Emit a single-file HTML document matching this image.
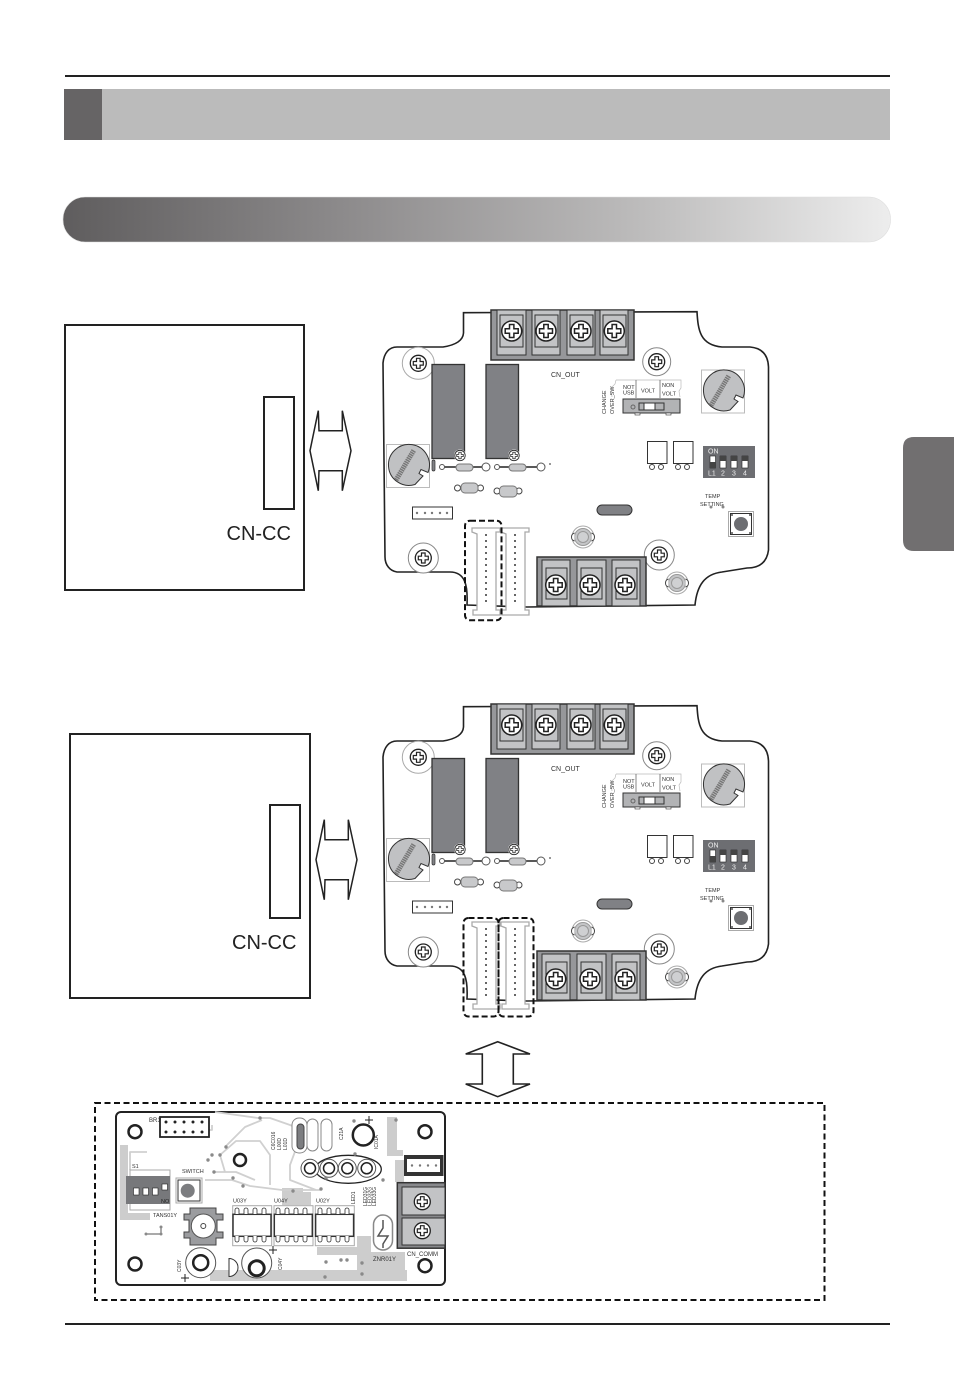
<!DOCTYPE html>
<html><head><meta charset="utf-8"><style>
html,body{margin:0;padding:0;background:#fff}
svg{display:block}
text{font-family:"Liberation Sans",sans-serif;fill:#333}
</style></head><body>
<svg xmlns="http://www.w3.org/2000/svg" width="954" height="1399" viewBox="0 0 954 1399">
<defs>
<linearGradient id="pg" x1="0" x2="1" y1="0" y2="0"><stop offset="0" stop-color="#5f5d5e"/><stop offset=".35" stop-color="#8e8c8d"/><stop offset=".7" stop-color="#bdbcbc"/><stop offset="1" stop-color="#ededed"/></linearGradient>
<g id="sc"><circle r="10" fill="#fff" stroke="#222" stroke-width="1.5"/><path d="M-2.200-6.500h4.400v4.300h4.300v4.400h-4.300v4.300h-4.400v-4.300h-4.300v-4.400h4.300z" fill="#fff" stroke="#222" stroke-width="1.500"/></g>
<g id="ss"><circle r="8" fill="#fff" stroke="#222" stroke-width="1.300"/><path d="M-1.800-5h3.600v3.200h3.200v3.600h-3.200v3.200h-3.600v-3.200h-3.200v-3.600h3.200z" fill="#fff" stroke="#222" stroke-width="1.200"/></g>
<g id="rot"><rect x="-21.500" y="-21.500" width="43" height="43" fill="#fff" stroke="#bbb"/><path d="M20 6.500A20.500 20.500 0 1 0 7 18.500L15 10 11 7.500 13 3.500Z" fill="#c0c1c3" stroke="#333"/><path d="M-12 14 6-16" stroke="#777" stroke-width="5" fill="none" stroke-dasharray="1.500 .7"/></g>
<g id="cap"><circle r="11" fill="#fff" stroke="#aaa"/><circle r="8.500" fill="#c4c5c7" stroke="#999"/><circle r="5.500" fill="#cfd0d2" stroke="#999"/><path d="M-8.500-4a4 4 0 0 0-3 4 4 4 0 0 0 3 4M8.500-4a4 4 0 0 1 3 4 4 4 0 0 1-3 4" fill="#fff" stroke="#444"/></g>
<g id="con"><path d="M-10 0h28v4h-4v78h4v5h-27v-5h4V6l-5-2z" fill="#fff" stroke="#aaa" stroke-width="1.300"/><g fill="#666"><rect x="3" y="6" width="2" height="2"/><rect x="3" y="12" width="2" height="2"/><rect x="3" y="18" width="2" height="2"/><rect x="3" y="24" width="2" height="2"/><rect x="3" y="30" width="2" height="2"/><rect x="3" y="36" width="2" height="2"/><rect x="3" y="42" width="2" height="2"/><rect x="3" y="48" width="2" height="2"/><rect x="3" y="54" width="2" height="2"/><rect x="3" y="60" width="2" height="2"/><rect x="3" y="66" width="2" height="2"/><rect x="3" y="72" width="2" height="2"/></g></g>
<g id="board">
<path d="M463.500 312.700L697 311.700C698 330 700 345 722 347L750 347C762 348 768 355 768.500 367L768.500 550C767 562 760 568 747 568L722 572C705 574 697 585 695 605L527 607L467 605C468 585 465 572 450 572L397 572C390 571 385 565 385 557L383 363C384 353 389 347 397 347L443 347C456 345 463 340 463.500 333Z" fill="#fff" stroke="#222" stroke-width="1.600"/>
<circle cx="418.300" cy="363.300" r="16" fill="#fff" stroke="#aaa"/>
<circle cx="656.700" cy="361.700" r="14" fill="#fff" stroke="#888"/>
<circle cx="423.300" cy="558" r="15" fill="#fff" stroke="#888"/>
<circle cx="659.300" cy="555" r="15" fill="#fff" stroke="#888"/>
<use href="#ss" x="418.300" y="363.300"/><use href="#ss" x="656.700" y="361.700"/><use href="#ss" x="423.300" y="558"/><use href="#ss" x="659.300" y="555"/>
<rect x="491" y="310" width="143" height="50" fill="#96979a" stroke="#333" stroke-width="1.500"/>
<g fill="#c2c3c5" stroke="#333"><rect x="497" y="310" width="29" height="45"/><rect x="532" y="310" width="28" height="45"/><rect x="567" y="310" width="28" height="45"/><rect x="600" y="310" width="28" height="45"/></g>
<g fill="none" stroke="#333"><rect x="500" y="315" width="23" height="32"/><rect x="535" y="315" width="23" height="32"/><rect x="570" y="315" width="23" height="32"/><rect x="603" y="315" width="23" height="32"/></g>
<use href="#sc" x="511.700" y="331"/><use href="#sc" x="546" y="331"/><use href="#sc" x="581" y="331"/><use href="#sc" x="614.300" y="331"/>
<rect x="537" y="557" width="109" height="49" fill="#96979a" stroke="#333" stroke-width="1.500"/>
<g fill="#c2c3c5" stroke="#333"><rect x="542" y="560" width="28" height="46"/><rect x="577" y="560" width="29" height="46"/><rect x="612" y="560" width="28" height="46"/></g>
<g fill="none" stroke="#333"><rect x="546" y="568" width="21" height="31"/><rect x="581" y="568" width="21" height="31"/><rect x="616" y="568" width="21" height="31"/></g>
<use href="#sc" x="555.700" y="585"/><use href="#sc" x="590" y="585"/><use href="#sc" x="625" y="585"/>
<rect x="432" y="364.500" width="32.500" height="94" fill="#808185" stroke="#333" stroke-width="1.300"/>
<rect x="486" y="364.500" width="32.500" height="94" fill="#808185" stroke="#333" stroke-width="1.300"/>
<circle cx="460" cy="455.500" r="6" fill="#fff"/><circle cx="514" cy="455.500" r="6" fill="#fff"/>
<use href="#ss" transform="translate(460 455.500) scale(.65)"/><use href="#ss" transform="translate(514 455.500) scale(.65)"/>
<use href="#rot" x="723" y="391.500"/><use href="#rot" x="408" y="466"/>
<rect x="432" y="460" width="3" height="11" rx="1.500" fill="#808185" stroke="#333" stroke-width=".7"/>
<path d="M442 467H486M497 467H541" stroke="#222" stroke-width="1.500"/>
<g fill="#fff" stroke="#555"><circle cx="442" cy="467" r="2.500"/><circle cx="486" cy="467" r="4"/><circle cx="497" cy="467" r="2.500"/><circle cx="541" cy="467" r="4"/></g>
<g fill="#fff" stroke="#444"><circle cx="457.500" cy="488" r="3"/><circle cx="480.500" cy="488" r="3"/><circle cx="497" cy="491" r="3"/><circle cx="519" cy="491" r="3"/></g>
<g fill="#c8c9cb" stroke="#777"><rect x="456" y="464" width="17" height="7" rx="3.500"/><rect x="509" y="464" width="17" height="7" rx="3.500"/><rect x="461" y="483" width="17" height="10" rx="4"/><rect x="499.500" y="486" width="17.500" height="11" rx="4"/></g>
<circle cx="550" cy="464" r="1" fill="#777"/>
<rect x="412.500" y="507" width="40" height="12" fill="#fff" stroke="#333"/>
<g fill="#777"><circle cx="417" cy="513" r="1.200"/><circle cx="425" cy="513" r="1.200"/><circle cx="432" cy="513" r="1.200"/><circle cx="440" cy="513" r="1.200"/><circle cx="447" cy="513" r="1.200"/></g>
<use href="#con" x="482" y="528"/><use href="#con" x="511" y="528"/>
<rect x="597" y="505" width="35" height="10" rx="5" fill="#808185" stroke="#333"/>
<use href="#cap" x="583" y="537"/><use href="#cap" x="677" y="583"/>
<path d="M616 380H681V388L679 391 680 397M616 380L615 384 611 388 612 397" fill="none" stroke="#bbb" stroke-width=".7"/>
<path d="M636 380V398M660 380V398" stroke="#555" stroke-width=".7" fill="none"/>
<rect x="623" y="399" width="57" height="14" fill="#b2b3b5" stroke="#333"/>
<rect x="639" y="403" width="25" height="7" fill="#b2b3b5" stroke="#333"/><rect x="644" y="403" width="11" height="7" fill="#fff" stroke="#333"/>
<circle cx="633" cy="407" r="2" fill="none" stroke="#666"/>
<rect x="635" y="413" width="5" height="2" fill="#fff" stroke="#333" stroke-width=".6"/><rect x="666" y="413" width="5" height="2" fill="#fff" stroke="#333" stroke-width=".6"/>
<path d="M647.500 441.500h19.500v22h-19.500zM673.500 441.500h19.500v22h-19.500z" fill="#fff" stroke="#333"/>
<g fill="#fff" stroke="#444"><circle cx="652" cy="467" r="2.500"/><circle cx="661" cy="467" r="2.500"/><circle cx="678" cy="467" r="2.500"/><circle cx="687" cy="467" r="2.500"/></g>
<rect x="703" y="446" width="52" height="32" fill="#6d6e72"/>
<g fill="#fff" stroke="#222" stroke-width=".6"><rect x="710" y="456" width="5.500" height="12"/><rect x="720" y="456" width="6" height="12"/><rect x="731" y="456" width="6" height="12"/><rect x="742" y="456" width="6" height="12"/></g>
<g fill="#444"><rect x="710" y="462" width="5.500" height="6"/><rect x="720" y="456" width="6" height="5"/><rect x="731" y="456" width="6" height="5"/><rect x="742" y="456" width="6" height="5"/></g>
<rect x="728.500" y="511.500" width="25" height="25" fill="#fff" stroke="#aaa"/><rect x="730.500" y="513.500" width="21" height="21" fill="#fff" stroke="#333"/>
<circle cx="741" cy="524" r="7" fill="#6d6e72"/>
<g fill="#555"><circle cx="732" cy="515" r="1"/><circle cx="750" cy="515" r="1"/><circle cx="732" cy="533" r="1"/><circle cx="750" cy="533" r="1"/></g>
<g fill="#888"><circle cx="711" cy="507" r="1.500"/><circle cx="723" cy="507" r="1.500"/></g>
</g>
<path id="ar" d="M310 450.700L318.300 410.700L319 430.700H342.300V410.700L351 450.700L342.300 490.700V470.700H319L318.300 490.700Z" fill="#fff" stroke="#222" stroke-width="1.500" stroke-linejoin="miter"/>
</defs>

<rect width="954" height="1399" fill="#fff"/>
<rect x="65" y="75" width="825" height="2" fill="#222"/>
<rect x="64" y="89" width="826" height="51" fill="#bbb"/>
<rect x="64" y="89" width="38" height="51" fill="#666465"/>
<rect x="63" y="197" width="827.500" height="45" rx="22" fill="url(#pg)" stroke="#ddd" stroke-width=".6"/>
<path d="M954 437H914Q903 437 903 448V540Q903 551 914 551H954Z" fill="#716f70"/>
<rect x="65" y="1323" width="825" height="2" fill="#222"/>

<rect x="65" y="325" width="239" height="265" fill="#fff" stroke="#222" stroke-width="2"/>
<rect x="264" y="397" width="30" height="112" fill="#fff" stroke="#222" stroke-width="2"/>
<text x="226.500" y="540" font-size="20" style="fill:#222">CN-CC</text>
<use href="#ar"/>

<rect x="70" y="734" width="240" height="264" fill="#fff" stroke="#222" stroke-width="2"/>
<rect x="270" y="805" width="30" height="113" fill="#fff" stroke="#222" stroke-width="2"/>
<text x="232" y="949" font-size="20" style="fill:#222">CN-CC</text>
<use href="#ar" x="6" y="409"/>

<use href="#board"/>
<g>
<text x="551" y="377" font-size="7">CN_OUT</text>
<text x="606" y="414" font-size="5.500" transform="rotate(-90 606 414)">CHANGE</text>
<text x="614" y="414" font-size="5.500" transform="rotate(-90 614 414)">OVER_SW</text>
<text x="623" y="389" font-size="5.500">NOT</text><text x="623" y="394.500" font-size="5.500">USB</text>
<text x="641" y="392.500" font-size="5.500">VOLT</text>
<text x="662" y="387" font-size="5.500">NON</text><text x="662" y="395.500" font-size="5.500">VOLT</text>
<text x="708" y="453.500" font-size="7" style="fill:#eee">ON</text>
<text x="708" y="475.500" font-size="7" style="fill:#eee">L1</text><text x="721" y="475.500" font-size="7" style="fill:#eee">2</text><text x="732" y="475.500" font-size="7" style="fill:#eee">3</text><text x="743" y="475.500" font-size="7" style="fill:#eee">4</text>
<text x="705" y="498" font-size="5.500">TEMP</text><text x="700" y="506" font-size="5.500">SETTING</text>
</g>
<rect x="465" y="520.700" width="36.500" height="99.500" rx="5" fill="none" stroke="#111" stroke-width="2" stroke-dasharray="6 3"/>

<use href="#board" y="394"/>
<g transform="translate(0 394)">
<text x="551" y="377" font-size="7">CN_OUT</text>
<text x="606" y="414" font-size="5.500" transform="rotate(-90 606 414)">CHANGE</text>
<text x="614" y="414" font-size="5.500" transform="rotate(-90 614 414)">OVER_SW</text>
<text x="623" y="389" font-size="5.500">NOT</text><text x="623" y="394.500" font-size="5.500">USB</text>
<text x="641" y="392.500" font-size="5.500">VOLT</text>
<text x="662" y="387" font-size="5.500">NON</text><text x="662" y="395.500" font-size="5.500">VOLT</text>
<text x="708" y="453.500" font-size="7" style="fill:#eee">ON</text>
<text x="708" y="475.500" font-size="7" style="fill:#eee">L1</text><text x="721" y="475.500" font-size="7" style="fill:#eee">2</text><text x="732" y="475.500" font-size="7" style="fill:#eee">3</text><text x="743" y="475.500" font-size="7" style="fill:#eee">4</text>
<text x="705" y="498" font-size="5.500">TEMP</text><text x="700" y="506" font-size="5.500">SETTING</text>
</g>
<rect x="463.500" y="918" width="35" height="98.500" rx="5" fill="none" stroke="#111" stroke-width="2" stroke-dasharray="6 3"/>
<rect x="498.500" y="918" width="35" height="98.500" rx="5" fill="none" stroke="#111" stroke-width="2" stroke-dasharray="6 3"/>

<path d="M497.700 1041.700L530 1054H513.300V1084H530L497.700 1096.700L465.700 1084H482.300V1054H465.700Z" fill="#fff" stroke="#222" stroke-width="1.600"/>

<rect x="95" y="1103" width="729.500" height="197" fill="none" stroke="#111" stroke-width="2" stroke-dasharray="6 3.500"/>

<rect x="116" y="1112" width="329" height="173" rx="5" fill="#fff" stroke="#222" stroke-width="2"/>
<g fill="#cdcdcd">
<rect x="120" y="1145" width="8" height="75"/><rect x="120" y="1213" width="30" height="7"/>
<rect x="282" y="1188" width="21" height="17"/><rect x="303" y="1192" width="8" height="13"/>
<rect x="317" y="1247" width="40" height="8"/><rect x="357" y="1236" width="14" height="34"/>
<rect x="210" y="1270" width="197" height="11"/><rect x="371" y="1252" width="34" height="18"/>
<rect x="387" y="1117" width="10" height="36"/><rect x="387" y="1150" width="16" height="6"/>
<rect x="288" y="1240" width="25" height="6"/><rect x="395" y="1160" width="9" height="22"/>
</g>
<g fill="none" stroke="#d0d0d0" stroke-width="1.800" stroke-linejoin="round">
<path d="M130 1170V1152H147M206 1130H212V1125M215 1112L258 1118H270L290 1125 303 1130 290 1165V1180L316 1190H320M225 1147L245 1127 262 1120M215 1172H236L255 1180M205 1180H232L250 1186 282 1190H320M225 1172L220 1155 236 1141H260L270 1155V1185"/>
</g>
<g fill="none" stroke="#222" stroke-width="2.500"><circle cx="135" cy="1131.700" r="6.500"/><circle cx="425" cy="1131.700" r="6.500"/><circle cx="135" cy="1264" r="6.500"/><circle cx="425" cy="1265.700" r="6.500"/><circle cx="240" cy="1160" r="6"/></g>
<rect x="160" y="1117" width="49" height="20" fill="#fff" stroke="#222" stroke-width="1.800"/>
<g fill="#222"><circle cx="166" cy="1122" r="1.500"/><circle cx="175" cy="1122" r="1.500"/><circle cx="184" cy="1122" r="1.500"/><circle cx="193" cy="1122" r="1.500"/><circle cx="202" cy="1122" r="1.500"/><circle cx="166" cy="1132" r="1.500"/><circle cx="175" cy="1132" r="1.500"/><circle cx="184" cy="1132" r="1.500"/><circle cx="193" cy="1132" r="1.500"/><circle cx="202" cy="1132" r="1.500"/></g>
<text x="149" y="1122" font-size="6">BR1</text>
<text x="132" y="1168" font-size="5.500">S1</text>
<rect x="130" y="1170" width="40" height="40" fill="#fff" stroke="#aaa"/>
<rect x="126" y="1176" width="44" height="28" fill="#77787b"/>
<g fill="#fff" stroke="#222" stroke-width=".6"><rect x="133.500" y="1188" width="5.500" height="7"/><rect x="143" y="1188" width="5.500" height="7"/><rect x="152.500" y="1188" width="5.500" height="7"/><rect x="162" y="1184" width="5.500" height="6"/></g>
<text x="161" y="1203" font-size="5.500" style="fill:#222">NO</text>
<text x="153" y="1217" font-size="5.500">TANS01Y</text>
<text x="182" y="1173" font-size="5.500">SWITCH</text>
<rect x="176" y="1178" width="26" height="25" fill="#fff" stroke="#aaa"/><rect x="178" y="1180" width="22" height="21" fill="#fff" stroke="#333"/>
<circle cx="187.700" cy="1190.700" r="7" fill="#7c7d80"/>
<path d="M190 1208h26v6h7v6h-6v12h6v6h-7v7h-26v-7h-6v-6h5v-12h-5v-6h6z" fill="#9b9c9f" stroke="#444"/>
<circle cx="203.300" cy="1226" r="12" fill="#fff" stroke="#555"/><circle cx="203.300" cy="1226" r="2.500" fill="#fff" stroke="#444"/>
<path d="M146 1234H161M161 1227V1234" stroke="#555" fill="none"/><g fill="#8a8a8a"><circle cx="146" cy="1234" r="1.500"/><circle cx="161" cy="1227" r="1.500"/><circle cx="161" cy="1234" r="1.500"/></g>

<g stroke="#333" fill="#fff">
<rect x="232.700" y="1205.700" width="39" height="40" stroke="#aaa"/><rect x="274" y="1205.700" width="39" height="40" stroke="#aaa"/><rect x="315.300" y="1205.700" width="39" height="40" stroke="#aaa"/>
<rect x="233" y="1214.300" width="38" height="22" stroke-width="1.500"/><rect x="274.300" y="1214.300" width="38" height="22" stroke-width="1.500"/><rect x="315.600" y="1214.300" width="38" height="22" stroke-width="1.500"/>
<g stroke-width=".8">
<path d="M235 1214v-4a2 2 0 0 1 4 0v4M244 1214v-4a2 2 0 0 1 4 0v4M253 1214v-4a2 2 0 0 1 4 0v4M262 1214v-4a2 2 0 0 1 4 0v4M235 1236v4a2 2 0 0 0 4 0v-4M244 1236v4a2 2 0 0 0 4 0v-4M253 1236v4a2 2 0 0 0 4 0v-4M262 1236v4a2 2 0 0 0 4 0v-4"/>
<path d="M276 1214v-4a2 2 0 0 1 4 0v4M285 1214v-4a2 2 0 0 1 4 0v4M294 1214v-4a2 2 0 0 1 4 0v4M303 1214v-4a2 2 0 0 1 4 0v4M276 1236v4a2 2 0 0 0 4 0v-4M285 1236v4a2 2 0 0 0 4 0v-4M294 1236v4a2 2 0 0 0 4 0v-4M303 1236v4a2 2 0 0 0 4 0v-4"/>
<path d="M318 1214v-4a2 2 0 0 1 4 0v4M327 1214v-4a2 2 0 0 1 4 0v4M336 1214v-4a2 2 0 0 1 4 0v4M345 1214v-4a2 2 0 0 1 4 0v4M318 1236v4a2 2 0 0 0 4 0v-4M327 1236v4a2 2 0 0 0 4 0v-4M336 1236v4a2 2 0 0 0 4 0v-4M345 1236v4a2 2 0 0 0 4 0v-4"/>
</g></g>
<text x="233" y="1202.500" font-size="5.500">U03Y</text><text x="274" y="1202.500" font-size="5.500">U04Y</text><text x="316" y="1202.500" font-size="5.500">U02Y</text>
<circle cx="200.700" cy="1262.700" r="15" fill="#fff" stroke="#555"/><circle cx="200.700" cy="1262.700" r="7.500" fill="#fff" stroke="#222" stroke-width="2.500"/>
<circle cx="256.700" cy="1263" r="15" fill="#fff" stroke="#555"/><circle cx="256.700" cy="1268.300" r="7.500" fill="#fff" stroke="#222" stroke-width="3"/>
<path d="M229 1258.500V1276.500A9 9 0 0 0 229 1258.500Z" fill="#fff" stroke="#333"/>
<path d="M181 1278h8M185 1274v8M269 1250h8M273 1246v8M365 1120h8M369 1116v8" stroke="#222" fill="none"/>
<text x="181" y="1272" font-size="5" transform="rotate(-90 181 1272)">C03Y</text>
<text x="282" y="1270" font-size="5" transform="rotate(-90 282 1270)">C04Y</text>
<g fill="#fff" stroke="#888"><rect x="292" y="1118" width="15" height="35" rx="7"/><rect x="307" y="1119" width="11" height="32" rx="5.500"/><rect x="321" y="1119" width="11" height="32" rx="5.500"/></g>
<rect x="297" y="1124" width="7" height="25" rx="3.500" fill="#7c7d80" stroke="#444"/>
<text x="275" y="1150" font-size="5" transform="rotate(-90 275 1150)">C6C016</text>
<text x="281" y="1150" font-size="5" transform="rotate(-90 281 1150)">L00D</text>
<text x="287" y="1150" font-size="5" transform="rotate(-90 287 1150)">L01D</text>
<text x="343" y="1140" font-size="5" transform="rotate(-90 343 1140)">C21A</text>
<text x="378" y="1149" font-size="5" transform="rotate(-90 378 1149)">IC01A</text>
<circle cx="363.300" cy="1135" r="10.500" fill="#fff" stroke="#222" stroke-width="2.500"/>
<ellipse cx="348.300" cy="1169.300" rx="33" ry="14" fill="#fff" stroke="#222" stroke-width="1.300"/>
<g fill="#fff" stroke="#555"><circle cx="310" cy="1168.300" r="9"/><circle cx="329" cy="1168.300" r="9"/><circle cx="347.300" cy="1168.300" r="9"/><circle cx="366.700" cy="1168.300" r="9"/></g>
<g fill="#fff" stroke="#222" stroke-width="1.500"><circle cx="310" cy="1168.300" r="5.500"/><circle cx="329" cy="1168.300" r="5.500"/><circle cx="347.300" cy="1168.300" r="5.500"/><circle cx="366.700" cy="1168.300" r="5.500"/></g>
<text x="355" y="1204" font-size="5" transform="rotate(-90 355 1204)">LED1</text>
<text x="367" y="1206" font-size="5" transform="rotate(-90 367 1206)">LED31G</text>
<text x="371.500" y="1206" font-size="5" transform="rotate(-90 371.500 1206)">LED32G</text>
<text x="376" y="1206" font-size="5" transform="rotate(-90 376 1206)">LED33G</text>
<rect x="404" y="1155" width="39.500" height="21" fill="#333"/><rect x="407" y="1159" width="33" height="13" fill="#fff"/>
<g fill="#777"><circle cx="412" cy="1165.500" r="1.200"/><circle cx="420" cy="1165.500" r="1.200"/><circle cx="428" cy="1165.500" r="1.200"/><circle cx="436" cy="1165.500" r="1.200"/></g>
<rect x="397.300" y="1182.700" width="47.700" height="65.500" fill="#88898c" stroke="#333" stroke-width="1.500"/>
<g fill="#c2c3c5" stroke="#333"><rect x="402" y="1187" width="43" height="28"/><rect x="402" y="1218" width="43" height="27"/></g>
<use href="#ss" x="422.300" y="1201.700"/><use href="#ss" x="422.300" y="1230.700"/>
<text x="407" y="1256" font-size="6">CN_COMM</text>
<rect x="373.500" y="1215" width="19" height="35" rx="9.500" fill="#fff" stroke="#888" stroke-width="1.500"/>
<path d="M383 1220V1228L378 1236H388L383 1244V1248" fill="none" stroke="#555" stroke-width="1.500"/>
<text x="373" y="1261" font-size="6">ZNR01Y</text>
<g fill="#8a8a8a"><circle cx="260" cy="1118" r="1.700"/><circle cx="212" cy="1155" r="1.700"/><circle cx="220" cy="1155" r="1.700"/><circle cx="226" cy="1147" r="1.700"/><circle cx="208" cy="1160" r="1.700"/><circle cx="214" cy="1172" r="1.700"/><circle cx="233" cy="1178" r="1.700"/><circle cx="243" cy="1186" r="1.700"/><circle cx="321" cy="1189" r="1.700"/><circle cx="293" cy="1191" r="1.700"/><circle cx="354" cy="1121" r="1.700"/><circle cx="396" cy="1120" r="1.700"/><circle cx="355" cy="1154" r="1.700"/><circle cx="383" cy="1180" r="1.700"/><circle cx="326" cy="1262" r="1.700"/><circle cx="341" cy="1260" r="1.700"/><circle cx="347" cy="1260" r="1.700"/><circle cx="362" cy="1263" r="1.700"/><circle cx="362" cy="1274" r="1.700"/><circle cx="325" cy="1277" r="1.700"/><circle cx="326" cy="1178" r="1.700"/></g>
</svg>
</body></html>
